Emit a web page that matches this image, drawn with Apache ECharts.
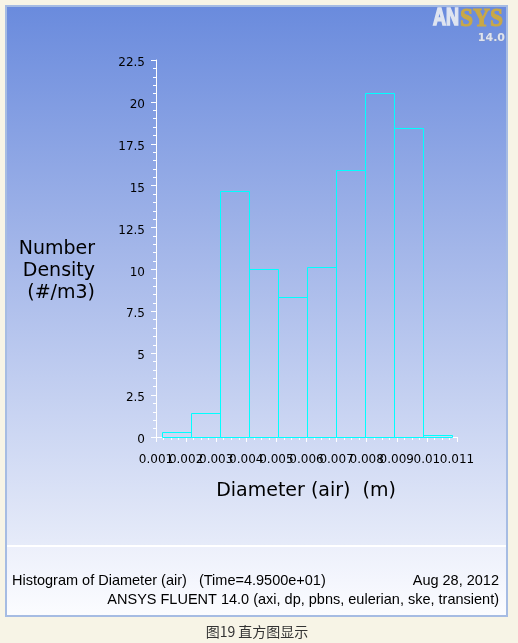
<!DOCTYPE html>
<html>
<head>
<meta charset="utf-8">
<style>
html,body{margin:0;padding:0;background:#f7f4e6;}
#chart{width:518px;height:643px;}
</style>
<script src="https://cdn.jsdelivr.net/npm/echarts@6/dist/echarts.min.js"></script>
</head>
<body>
<div id="chart"></div>
<script>
// ---- data ----
const binEdges = [0.001186, 0.002151, 0.003116, 0.004094, 0.005045, 0.006000, 0.006965, 0.007939, 0.008904, 0.009869, 0.010834];
const densityValues = [0.32, 1.46, 14.66, 10.02, 8.34, 10.14, 15.94, 20.55, 18.46, 0.14];
const xTickMin = 0.001, xTickMax = 0.011, xTickStep = 0.001;
const yTickMin = 0, yTickMax = 22.5, yTickStep = 2.5;
const yAxisTitle = ['Number', 'Density', '(#/m3)'];
const xAxisTitle = 'Diameter (air)  (m)';
const footerLeft = 'Histogram of Diameter (air)   (Time=4.9500e+01)';
const footerDate = 'Aug 28, 2012';
const footerInfo = 'ANSYS FLUENT 14.0 (axi, dp, pbns, eulerian, ske, transient)';
const caption = '图19 直方图显示';

const histData = densityValues.map((v, i) => [binEdges[i], binEdges[i + 1], v]);

const chart = echarts.init(document.getElementById('chart'), null, {renderer: 'canvas'});
const FONT = '"DejaVu Sans", sans-serif';

// labels overlap in the reference; split them over two identical axes (odd / even ticks)
function fmtX(parity) {
  return function (v) {
    const k = Math.round(v / xTickStep);
    if (k % 2 !== parity) return '';
    return String(parseFloat(v.toFixed(6)));
  };
}
function xAxisBase(parity, visibleLine) {
  return {
    type: 'value', min: xTickMin, max: xTickMax, interval: xTickStep, position: 'bottom',
    axisLine: {show: visibleLine, onZero: false, lineStyle: {color: '#ffffff', width: 1}},
    axisTick: {show: visibleLine, inside: false, length: 5, lineStyle: {color: '#ffffff'}},
    minorTick: {show: visibleLine, splitNumber: 4, length: 3, lineStyle: {color: '#ffffff'}},
    splitLine: {show: false},
    axisLabel: {
      color: '#000', fontFamily: FONT, fontSize: 12, margin: 17, hideOverlap: false,
      showMinLabel: true, showMaxLabel: true,
      formatter: fmtX(parity)
    }
  };
}

chart.setOption({
  backgroundColor: '#f7f4e6',
  animation: false,
  grid: {left: 156, right: 61, top: 60, bottom: 206, containLabel: false},
  xAxis: [xAxisBase(1, true), xAxisBase(0, false)],
  yAxis: {
    type: 'value', min: yTickMin, max: yTickMax, interval: yTickStep,
    axisLine: {show: true, lineStyle: {color: '#ffffff', width: 1}},
    axisTick: {show: true, inside: false, length: 5, lineStyle: {color: '#ffffff'}},
    minorTick: {show: true, splitNumber: 5, length: 3, lineStyle: {color: '#ffffff'}},
    splitLine: {show: false},
    axisLabel: {color: '#000', fontFamily: FONT, fontSize: 12, margin: 11,
      verticalAlign: 'top', lineHeight: 6,
      formatter: v => String(v)}
  },
  series: [{
    type: 'custom',
    xAxisIndex: 0,
    data: histData,
    encode: {x: [0, 1], y: 2},
    renderItem: function (params, api) {
      const p0 = api.coord([api.value(0), api.value(2)]);
      const p1 = api.coord([api.value(1), 0]);
      const x0 = Math.round(p0[0]) + 0.5, x1 = Math.round(p1[0]) + 0.5;
      const y0 = Math.round(p0[1]) + 0.5, y1 = Math.round(p1[1]) + 0.5;
      return {
        type: 'rect',
        shape: {x: x0, y: y0, width: x1 - x0, height: y1 - y0},
        style: {fill: 'none', stroke: '#00ffff', lineWidth: 1}
      };
    },
    z: 3
  }],
  graphic: [
    {type: 'rect', z: -10, shape: {x: 5, y: 5, width: 503, height: 612},
      style: {fill: '#a6bce3'}},
    {type: 'rect', z: -9, shape: {x: 7, y: 7, width: 499, height: 538},
      style: {fill: new echarts.graphic.LinearGradient(0, 0, 0, 1, [
        {offset: 0, color: '#6a8bdd'}, {offset: 0.45, color: '#a3b6e9'}, {offset: 1, color: '#e6ebf9'}])}},
    {type: 'rect', z: -9, shape: {x: 7, y: 545, width: 499, height: 2},
      style: {fill: '#ffffff'}},
    {type: 'rect', z: -9, shape: {x: 7, y: 547, width: 499, height: 68},
      style: {fill: new echarts.graphic.LinearGradient(0, 0, 0, 1, [
        {offset: 0, color: '#edf0fb'}, {offset: 1, color: '#fbfcff'}])}},
    // logo
    {type: 'text', x: 433, y: 19, scaleX: 0.78, z: 5,
      style: {text: 'AN', x: 0, y: 0, fill: '#dfe4f0', stroke: '#dfe4f0', lineWidth: 1.6,
        fontWeight: 'bold', fontSize: 23, fontFamily: '"Liberation Sans", sans-serif',
        textAlign: 'left', textVerticalAlign: 'middle'}},
    {type: 'text', x: 460, y: 19, scaleX: 0.9, z: 5,
      style: {text: 'SYS', x: 0, y: 0, fill: '#c9a846', stroke: '#c9a846', lineWidth: 1,
        fontWeight: 'bold', fontSize: 26, fontFamily: '"Liberation Serif", serif',
        textAlign: 'left', textVerticalAlign: 'middle'}},
    {type: 'text', z: 5,
      style: {text: '14.0', x: 505, y: 38, fill: '#dfe4ee', fontWeight: 'bold', fontSize: 11,
        fontFamily: '"DejaVu Sans", sans-serif',
        stroke: '#8595bb', lineWidth: 0.6, textAlign: 'right', textVerticalAlign: 'middle'}},
    // axis titles
    {type: 'text', z: 5,
      style: {text: yAxisTitle.join('\n'), x: 95, y: 238, fill: '#000', fontSize: 19, fontFamily: FONT,
        lineHeight: 22, textAlign: 'right', textVerticalAlign: 'top'}},
    {type: 'text', z: 5,
      style: {text: xAxisTitle, x: 306, y: 491, fill: '#000', fontSize: 19, fontFamily: FONT,
        textAlign: 'center', textVerticalAlign: 'middle'}},
    // footer
    {type: 'text', z: 5,
      style: {text: footerLeft, x: 12, y: 581, fill: '#000', fontSize: 14.5, fontFamily: '"Liberation Sans", sans-serif',
        textAlign: 'left', textVerticalAlign: 'middle'}},
    {type: 'text', z: 5,
      style: {text: footerDate, x: 499, y: 581, fill: '#000', fontSize: 14.5, fontFamily: '"Liberation Sans", sans-serif',
        textAlign: 'right', textVerticalAlign: 'middle'}},
    {type: 'text', z: 5,
      style: {text: footerInfo, x: 499, y: 600, fill: '#000', fontSize: 14.5, fontFamily: '"Liberation Sans", sans-serif',
        textAlign: 'right', textVerticalAlign: 'middle'}},
    {type: 'text', z: 5,
      style: {text: caption, x: 257, y: 632, fill: '#333', fontSize: 14, fontFamily: '"Noto Sans CJK SC", sans-serif',
        textAlign: 'center', textVerticalAlign: 'middle'}}
  ]
});
</script>
</body>
</html>
